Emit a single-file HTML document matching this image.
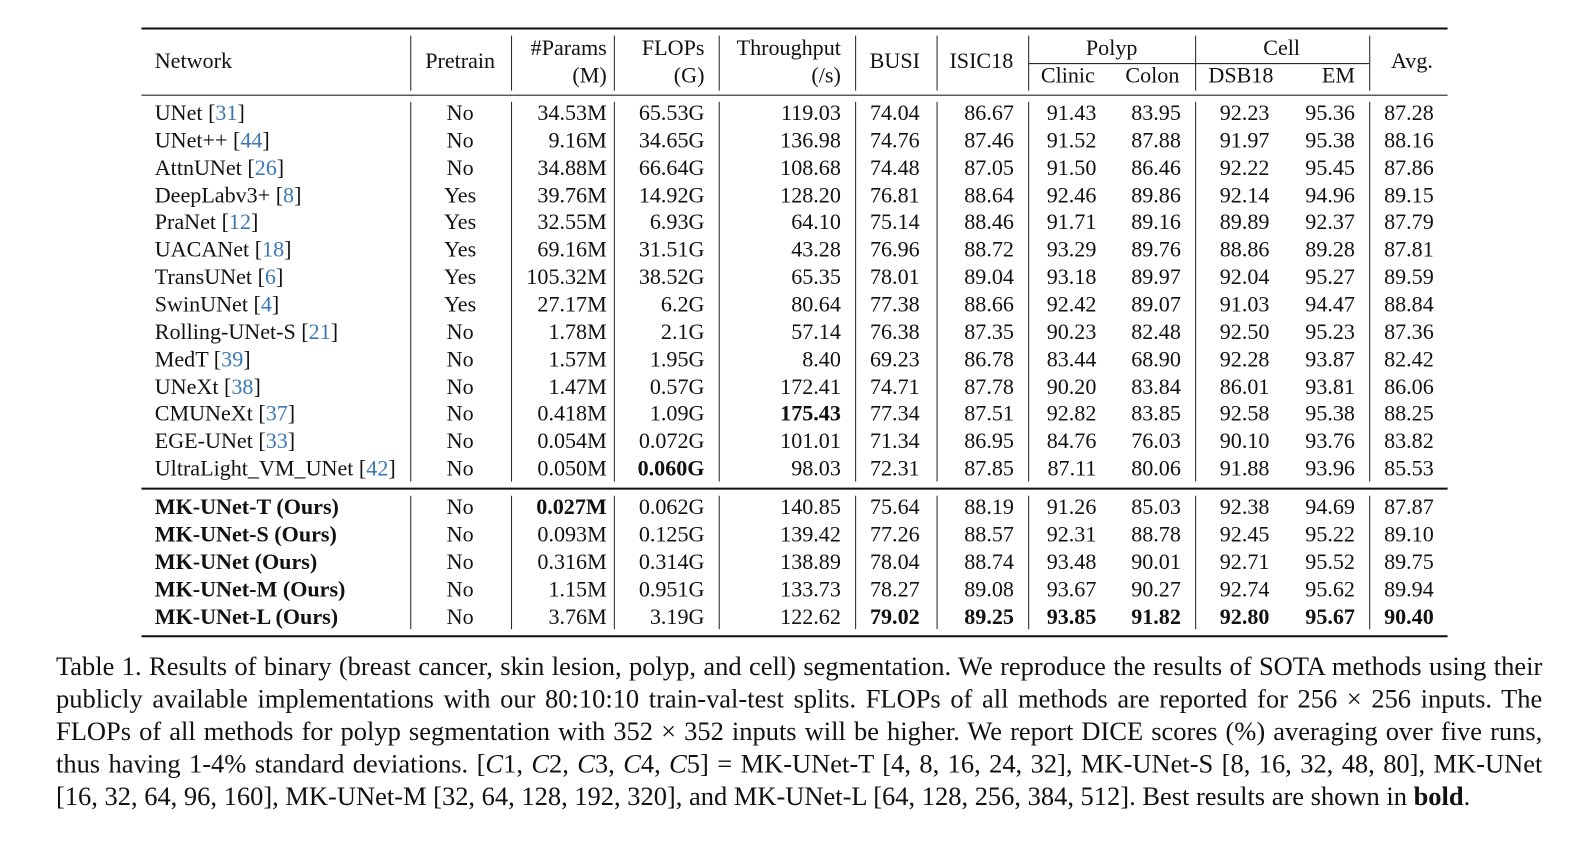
<!DOCTYPE html>
<html><head><meta charset="utf-8">
<style>
body{margin:0;width:1596px;height:843px;background:#fff;position:relative;overflow:hidden;font-family:"Liberation Serif",serif;color:#111}
#wrap{position:absolute;left:0;top:0;width:1560px;height:824px;transform:scale(1.018);transform-origin:0 0}
.c{position:absolute;font-size:21.7px;white-space:nowrap;line-height:24px}
.hl{position:absolute;background:#111}
.vl{position:absolute;width:1px;background:#222}
.cap{position:absolute;left:55px;top:639px;width:1460px;font-size:26px;line-height:32px;text-align:justify}
.nw{white-space:nowrap}
.ref{color:#3a78b5}
</style></head><body>
<div id="wrap">
<div id="tbl"></div>
<div class="cap">Table 1. Results of binary (breast cancer, skin lesion, polyp, and cell) segmentation. We reproduce the results of SOTA methods using their publicly available implementations with our 80:10:10 train-val-test splits. FLOPs of all methods are reported for <span class="nw">256 × 256</span> inputs. The FLOPs of all methods for polyp segmentation with <span class="nw">352 × 352</span> inputs will be higher. We report DICE scores (%) averaging over five runs, thus having 1-4% standard deviations. <span class="nw">[<i>C</i>1, <i>C</i>2, <i>C</i>3, <i>C</i>4, <i>C</i>5]</span> = MK-UNet-T <span class="nw">[4, 8, 16, 24, 32]</span>, MK-UNet-S <span class="nw">[8, 16, 32, 48, 80]</span>, MK-UNet <span class="nw">[16, 32, 64, 96, 160]</span>, MK-UNet-M <span class="nw">[32, 64, 128, 192, 320]</span>, and MK-UNet-L <span class="nw">[64, 128, 256, 384, 512]</span>. Best results are shown in <b>bold</b>.</div>
</div>
<script>
const names=["UNet|31","UNet++|44","AttnUNet|26","DeepLabv3+|8","PraNet|12","UACANet|18","TransUNet|6","SwinUNet|4","Rolling-UNet-S|21","MedT|39","UNeXt|38","CMUNeXt|37","EGE-UNet|33","UltraLight_VM_UNet|42","MK-UNet-T (Ours)","MK-UNet-S (Ours)","MK-UNet (Ours)","MK-UNet-M (Ours)","MK-UNet-L (Ours)"];
const pretrain=["No","No","No","Yes","Yes","Yes","Yes","Yes","No","No","No","No","No","No","No","No","No","No","No"];
const params=["34.53M","9.16M","34.88M","39.76M","32.55M","69.16M","105.32M","27.17M","1.78M","1.57M","1.47M","0.418M","0.054M","0.050M","*0.027M","0.093M","0.316M","1.15M","3.76M"];
const flops=["65.53G","34.65G","66.64G","14.92G","6.93G","31.51G","38.52G","6.2G","2.1G","1.95G","0.57G","1.09G","0.072G","*0.060G","0.062G","0.125G","0.314G","0.951G","3.19G"];
const thru=["119.03","136.98","108.68","128.20","64.10","43.28","65.35","80.64","57.14","8.40","172.41","*175.43","101.01","98.03","140.85","139.42","138.89","133.73","122.62"];
const busi=["74.04","74.76","74.48","76.81","75.14","76.96","78.01","77.38","76.38","69.23","74.71","77.34","71.34","72.31","75.64","77.26","78.04","78.27","*79.02"];
const isic=["86.67","87.46","87.05","88.64","88.46","88.72","89.04","88.66","87.35","86.78","87.78","87.51","86.95","87.85","88.19","88.57","88.74","89.08","*89.25"];
const clinic=["91.43","91.52","91.50","92.46","91.71","93.29","93.18","92.42","90.23","83.44","90.20","92.82","84.76","87.11","91.26","92.31","93.48","93.67","*93.85"];
const colon=["83.95","87.88","86.46","89.86","89.16","89.76","89.97","89.07","82.48","68.90","83.84","83.85","76.03","80.06","85.03","88.78","90.01","90.27","*91.82"];
const dsb=["92.23","91.97","92.22","92.14","89.89","88.86","92.04","91.03","92.50","92.28","86.01","92.58","90.10","91.88","92.38","92.45","92.71","92.74","*92.80"];
const em=["95.36","95.38","95.45","94.96","92.37","89.28","95.27","94.47","95.23","93.87","93.81","95.38","93.76","93.96","94.69","95.22","95.52","95.62","*95.67"];
const avg=["87.28","88.16","87.86","89.15","87.79","87.81","89.59","88.84","87.36","82.42","86.06","88.25","83.82","85.53","87.87","89.10","89.75","89.94","*90.40"];
const T=document.getElementById('tbl');
const W=1560;
function cell(txt,x,y,align,name){const d=document.createElement('div');d.className='c';
let bold=false;if(txt.startsWith('*')){bold=true;txt=txt.slice(1);}
d.innerHTML=txt;if(bold)d.style.fontWeight='bold';
d.style.top=(y-12)+'px';
if(align==='r'){d.style.right=(W-x)+'px';}else if(align==='c'){d.style.left=(x-100)+'px';d.style.width='200px';d.style.textAlign='center';}else{d.style.left=x+'px';}


T.appendChild(d);return d;}
function hl(x,y,w,h,name){const d=document.createElement('div');d.className='hl';d.style.left=x+'px';d.style.top=y+'px';d.style.width=w+'px';d.style.height=h+'px';


T.appendChild(d);}
function vl(x,y1,y2,name){const d=document.createElement('div');d.className='vl';d.style.left=x+'px';d.style.top=y1+'px';d.style.height=(y2-y1)+'px';


T.appendChild(d);}
hl(139,27,1283,2,'top-rule');hl(139,93,1283,1,'header-rule');hl(139,479,1283,2,'group-rule');hl(139,624,1283,2,'bottom-rule');
hl(1010,62,335,1,'dataset-subrule');
const vx=[403,502,603,706,840,920,1010,1174,1345];
vx.forEach((x,i)=>{vl(x,35,89,'header-divider-'+i);vl(x,100,473,'body-divider-'+i);vl(x,487,618,'ours-divider-'+i);});
cell('Network',152,60,'l','header-network');
cell('Pretrain',452,60,'c','header-pretrain');
cell('#Params',596,47,'r','header-params');cell('(M)',596,74,'r','header-params-unit');
cell('FLOPs',692,47,'r','header-flops');cell('(G)',692,74,'r','header-flops-unit');
cell('Throughput',826,47,'r','header-throughput');cell('(/s)',826,74,'r','header-throughput-unit');
cell('BUSI',879,60,'c','header-busi');cell('ISIC18',964,60,'c','header-isic18');
cell('Polyp',1092,47,'c','header-polyp');cell('Cell',1259,47,'c','header-cell');
cell('Clinic',1049,74,'c','header-clinic');cell('Colon',1132,74,'c','header-colon');
cell('DSB18',1219,74,'c','header-dsb18');cell('EM',1331,74,'r','header-em');
cell('Avg.',1387,60,'c','header-avg');
names.forEach((n,i)=>{
  const y=i<14?111+i*26.85:497.5+(i-14)*27;
  let html;
  if(i<14){const p=n.split('|');html=p[0]+' [<span class="ref">'+p[1]+'</span>]';}
  else html='<b>'+n+'</b>';
  cell(html,152,y,'l','row-name-'+i);
  cell(pretrain[i],452,y,'c','pretrain-'+i);
  cell(params[i],596,y,'r','params-'+i);
  cell(flops[i],692,y,'r','flops-'+i);
  cell(thru[i],826,y,'r','throughput-'+i);
  cell(busi[i],879,y,'c','busi-'+i);
  cell(isic[i],996,y,'r','isic18-'+i);
  cell(clinic[i],1077,y,'r','clinic-'+i);
  cell(colon[i],1160,y,'r','colon-'+i);
  cell(dsb[i],1247,y,'r','dsb18-'+i);
  cell(em[i],1331,y,'r','em-'+i);
  cell(avg[i],1384,y,'c','avg-'+i);
});
</script>
</body></html>
